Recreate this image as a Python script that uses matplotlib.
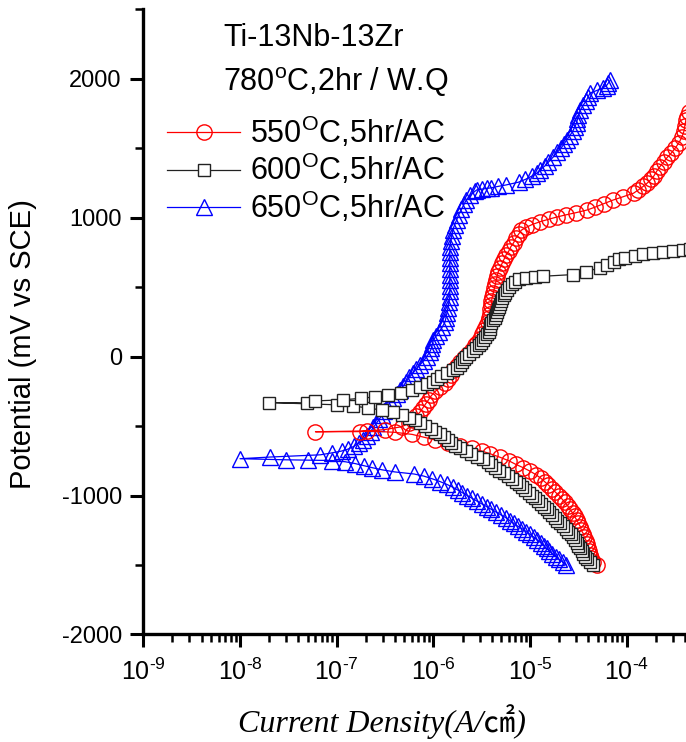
import numpy as np
import matplotlib
matplotlib.use("Agg")
from matplotlib import pyplot as plt
from matplotlib.ticker import FixedLocator, LogLocator, NullFormatter, FuncFormatter

# polarisation scans from -1500 mV upward: (potential mV vs SCE, log10 current density A/cm2)
scan_550 = [
    (-1500, -4.31), (-1475, -4.35), (-1450, -4.37), (-1425, -4.38), (-1400, -4.39),
    (-1375, -4.40), (-1350, -4.41), (-1325, -4.42), (-1300, -4.44), (-1275, -4.45),
    (-1250, -4.47), (-1225, -4.48), (-1200, -4.50), (-1175, -4.52), (-1150, -4.54),
    (-1125, -4.56), (-1100, -4.59), (-1075, -4.61), (-1050, -4.64), (-1025, -4.67),
    (-1000, -4.70), (-975, -4.74), (-950, -4.77), (-925, -4.81), (-900, -4.85),
    (-875, -4.89), (-850, -4.94), (-825, -5.00), (-800, -5.07), (-775, -5.15),
    (-750, -5.22), (-725, -5.31), (-700, -5.41), (-680, -5.50), (-660, -5.60),
    (-640, -5.72), (-620, -5.85), (-600, -5.98), (-580, -6.10), (-560, -6.22),
    (-545, -6.40), (-535, -6.69), (-541, -7.22), (-540, -6.76), (-525, -6.50),
    (-505, -6.33), (-480, -6.25), (-455, -6.21), (-430, -6.18), (-400, -6.14),
    (-370, -6.11), (-340, -6.08), (-310, -6.05), (-280, -6.02), (-250, -5.98),
    (-220, -5.93), (-190, -5.88), (-160, -5.85), (-130, -5.82), (-100, -5.80),
    (-70, -5.76), (-40, -5.72), (-10, -5.68), (20, -5.64), (50, -5.60),
    (80, -5.57), (100, -5.55), (130, -5.52), (160, -5.50), (190, -5.48),
    (220, -5.46), (250, -5.44), (280, -5.43), (310, -5.42), (340, -5.41),
    (370, -5.40), (400, -5.40), (430, -5.39), (460, -5.38), (490, -5.37),
    (520, -5.36), (550, -5.35), (580, -5.34), (610, -5.33), (640, -5.31),
    (670, -5.29), (700, -5.27), (730, -5.25), (760, -5.22), (790, -5.20),
    (820, -5.17), (850, -5.15), (880, -5.12), (910, -5.09), (930, -5.04),
    (950, -4.98), (970, -4.90), (990, -4.80), (1005, -4.72), (1020, -4.63),
    (1035, -4.53), (1055, -4.41), (1075, -4.33), (1100, -4.24), (1127, -4.14),
    (1150, -4.04), (1176, -3.93), (1200, -3.88), (1225, -3.83), (1248, -3.79),
    (1275, -3.75), (1300, -3.72), (1335, -3.69), (1365, -3.66), (1400, -3.62),
    (1435, -3.58), (1465, -3.54), (1500, -3.50), (1540, -3.46), (1580, -3.43),
    (1620, -3.41), (1660, -3.40), (1700, -3.39), (1724, -3.38), (1760, -3.36),
]

scan_600 = [
    (-1500, -4.35), (-1480, -4.38), (-1460, -4.41), (-1440, -4.43), (-1420, -4.45),
    (-1400, -4.46), (-1380, -4.48), (-1360, -4.50), (-1340, -4.515), (-1320, -4.54),
    (-1300, -4.56), (-1280, -4.58), (-1260, -4.61), (-1240, -4.63), (-1220, -4.66),
    (-1200, -4.69), (-1180, -4.72), (-1160, -4.74), (-1140, -4.77), (-1120, -4.80),
    (-1100, -4.83), (-1080, -4.86), (-1060, -4.89), (-1040, -4.92), (-1020, -4.95),
    (-1000, -4.98), (-980, -5.01), (-960, -5.05), (-940, -5.08), (-920, -5.11),
    (-900, -5.15), (-880, -5.19), (-860, -5.23), (-840, -5.27), (-820, -5.32),
    (-800, -5.36), (-780, -5.40), (-760, -5.44), (-740, -5.49), (-720, -5.55),
    (-700, -5.61), (-680, -5.66), (-660, -5.72), (-640, -5.78), (-620, -5.82),
    (-600, -5.85), (-580, -5.89), (-560, -5.93), (-540, -5.98), (-520, -6.03),
    (-500, -6.09), (-480, -6.14), (-460, -6.19), (-440, -6.25), (-420, -6.32),
    (-400, -6.42), (-385, -6.53), (-370, -6.68), (-355, -6.83), (-347, -7.00),
    (-331, -7.70), (-333, -7.31), (-319, -7.22), (-311, -6.93), (-300, -6.75),
    (-290, -6.60), (-275, -6.47), (-260, -6.34), (-240, -6.22), (-220, -6.14),
    (-200, -6.07), (-180, -6.00), (-160, -5.96), (-140, -5.92), (-120, -5.86),
    (-100, -5.80), (-80, -5.76), (-60, -5.73), (-40, -5.70), (-20, -5.68),
    (0, -5.66), (20, -5.63), (40, -5.59), (60, -5.56), (80, -5.53),
    (100, -5.51), (120, -5.49), (140, -5.47), (160, -5.45), (180, -5.43),
    (200, -5.42), (220, -5.41), (240, -5.40), (260, -5.38), (280, -5.36),
    (300, -5.35), (320, -5.34), (340, -5.33), (360, -5.32), (380, -5.31),
    (400, -5.30), (420, -5.29), (440, -5.27), (460, -5.26), (480, -5.24),
    (500, -5.22), (520, -5.19), (540, -5.16), (555, -5.11), (565, -5.04),
    (572, -4.95), (578, -4.87), (590, -4.56), (610, -4.42), (640, -4.28),
    (660, -4.20), (680, -4.13), (700, -4.08), (712, -4.02), (725, -3.92),
    (735, -3.83), (745, -3.73), (753, -3.63), (760, -3.52), (767, -3.42),
    (775, -3.35),
]

scan_650 = [
    (-1500, -4.63), (-1480, -4.66), (-1460, -4.70), (-1440, -4.73), (-1420, -4.77),
    (-1400, -4.80), (-1380, -4.83), (-1360, -4.86), (-1340, -4.89), (-1320, -4.93),
    (-1300, -4.96), (-1280, -5.00), (-1260, -5.04), (-1240, -5.08), (-1220, -5.13),
    (-1200, -5.17), (-1180, -5.21), (-1160, -5.25), (-1140, -5.30), (-1120, -5.35),
    (-1100, -5.40), (-1080, -5.45), (-1060, -5.50), (-1040, -5.55), (-1020, -5.60),
    (-1000, -5.65), (-980, -5.70), (-960, -5.75), (-940, -5.80), (-920, -5.86),
    (-900, -5.93), (-880, -6.01), (-860, -6.10), (-845, -6.20), (-830, -6.40),
    (-815, -6.53), (-800, -6.63), (-785, -6.72), (-770, -6.81), (-757, -6.91),
    (-748, -7.05), (-745, -7.30), (-743, -7.52), (-735, -8.00), (-723, -7.69),
    (-707, -7.17), (-693, -7.05), (-680, -6.95), (-665, -6.88), (-645, -6.82),
    (-620, -6.77), (-600, -6.73), (-570, -6.69), (-540, -6.65), (-510, -6.62),
    (-479, -6.59), (-450, -6.56), (-420, -6.53), (-390, -6.51), (-361, -6.48),
    (-330, -6.45), (-300, -6.42), (-270, -6.38), (-240, -6.35), (-210, -6.31),
    (-180, -6.28), (-150, -6.25), (-118, -6.21), (-90, -6.18), (-60, -6.14),
    (-30, -6.10), (0, -6.07), (30, -6.04), (60, -6.02), (90, -6.01),
    (120, -6.00), (150, -5.97), (180, -5.94), (210, -5.91), (250, -5.88),
    (280, -5.87), (314, -5.86), (350, -5.85), (390, -5.84), (430, -5.83),
    (470, -5.83), (510, -5.83), (552, -5.83), (590, -5.83), (630, -5.83),
    (670, -5.83), (710, -5.83), (750, -5.83), (790, -5.83), (830, -5.82),
    (870, -5.81), (910, -5.80), (950, -5.78), (983, -5.76), (1020, -5.74),
    (1060, -5.71), (1100, -5.68), (1127, -5.66), (1160, -5.62), (1190, -5.57),
    (1200, -5.55), (1205, -5.50), (1210, -5.45), (1215, -5.40), (1225, -5.33),
    (1235, -5.25), (1255, -5.12), (1275, -5.05), (1300, -4.98), (1320, -4.93),
    (1343, -4.90), (1370, -4.85), (1400, -4.81), (1437, -4.76), (1470, -4.72),
    (1500, -4.68), (1530, -4.65), (1559, -4.62), (1590, -4.59), (1620, -4.56),
    (1650, -4.54), (1680, -4.52), (1710, -4.51), (1740, -4.50), (1775, -4.48),
    (1810, -4.45), (1840, -4.42), (1870, -4.40), (1897, -4.38), (1915, -4.31),
    (1933, -4.25), (1950, -4.21), (1970, -4.19), (1990, -4.17),
]

labels = [r"550$^\mathregular{O}$C,5hr/AC",
          r"600$^\mathregular{O}$C,5hr/AC",
          r"650$^\mathregular{O}$C,5hr/AC"]
title_lines = ["Ti-13Nb-13Zr", r"780$^\mathregular{o}$C,2hr / W.Q"]
y_ticks = [-2000, -1000, 0, 1000, 2000]

plt.rcParams["font.family"] = ["Liberation Sans", "DejaVu Sans"]
plt.rcParams["mathtext.fontset"] = "custom"
plt.rcParams["mathtext.rm"] = "Liberation Sans"
plt.rcParams["axes.unicode_minus"] = False

fig = plt.figure(figsize=(6.86, 7.42), dpi=100)
ax = fig.add_axes([0.2089, 0.1449, 0.7911, 0.8427])


def split(scan):
    arr = np.array(scan, dtype=float)
    return 10 ** arr[:, 1], arr[:, 0]


def decade_label(v, pos):
    # short hyphen in the exponent instead of a math minus
    exp = int(round(np.log10(v)))
    sign = "\u2010" if exp < 0 else ""
    return r"$\mathregular{10^{%s%d}}$" % (sign, abs(exp))


i650, e650 = split(scan_650)
i550, e550 = split(scan_550)
i600, e600 = split(scan_600)

h650, = ax.plot(i650, e650, color="#0000ff", lw=0.9, marker="^", ms=11,
                mfc="none", mec="#0000ff", mew=1.0, zorder=2)
h550, = ax.plot(i550, e550, color="#ff0000", lw=0.9, marker="o", ms=11,
                mfc="none", mec="#ff0000", mew=1.0, zorder=3)
h600, = ax.plot(i600, e600, color="#222222", lw=0.9, marker="s", ms=9,
                mfc="white", mec="#222222", mew=1.0, zorder=4)

ax.set_xscale("log")
ax.set_xlim(1e-9, 10 ** -3.388)
ax.set_ylim(-2000, 2500)

ax.spines["top"].set_visible(False)
ax.spines["right"].set_visible(False)
for side in ("left", "bottom"):
    ax.spines[side].set_linewidth(2.4)

ax.yaxis.set_major_locator(FixedLocator(y_ticks))
ax.yaxis.set_minor_locator(FixedLocator([-1500, -500, 500, 1500, 2500]))
ax.xaxis.set_major_locator(LogLocator(base=10, numticks=12))
ax.xaxis.set_minor_locator(LogLocator(base=10, subs=np.arange(2, 10), numticks=12))
ax.xaxis.set_minor_formatter(NullFormatter())
ax.xaxis.set_major_formatter(FuncFormatter(decade_label))

ax.tick_params(which="major", direction="out", length=9.5, width=2.2)
ax.tick_params(which="minor", direction="out", length=5.5, width=1.8)
ax.tick_params(axis="y", labelsize=17, pad=6)
ax.tick_params(axis="x", labelsize=18, pad=8)

ax.set_ylabel("Potential (mV vs SCE)", fontsize=21)
ax.yaxis.set_label_coords(-0.196, 0.465)
ax.set_xlabel("Current Density(A/\u33a0)", fontsize=23, style="italic",
              family=["Liberation Serif", "Noto Sans CJK JP"])
ax.xaxis.set_label_coords(0.44, -0.112)

ax.text(0.147, 0.9408, title_lines[0], transform=ax.transAxes, fontsize=22,
        va="baseline")
ax.text(0.147, 0.8687, title_lines[1], transform=ax.transAxes, fontsize=22,
        va="baseline")

ax.legend([h550, h600, h650], labels, loc="upper left",
          bbox_to_anchor=(0.0437, 0.832), frameon=False, fontsize=22,
          numpoints=1, handlelength=2.4, handletextpad=0.3,
          labelspacing=0.08, borderpad=0, borderaxespad=0)

fig.savefig("out.png", dpi=100)
